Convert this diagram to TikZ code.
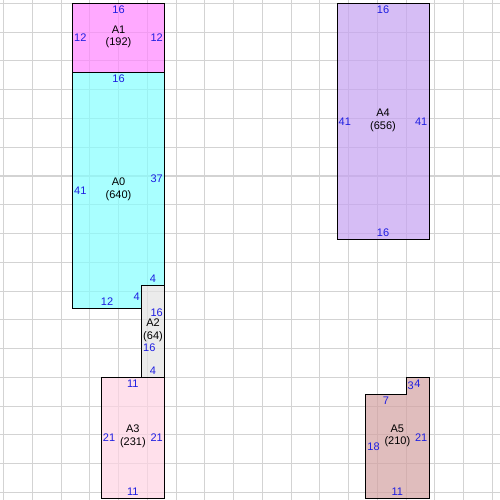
\documentclass[tikz,border=0pt]{standalone}
\usepackage{fontspec}
\setmainfont{Liberation Sans}
\definecolor{gridgray}{RGB}{211,211,211}
\definecolor{lenblue}{RGB}{30,30,225}
\definecolor{fillA0}{RGB}{133,255,255}
\definecolor{fillA1}{RGB}{255,133,255}
\definecolor{fillA2}{RGB}{227,227,227}
\definecolor{fillA3}{RGB}{255,212,227}
\definecolor{fillA4}{RGB}{198,162,241}
\definecolor{fillA5}{RGB}{212,162,162}
\tikzset{
	gridline/.style={draw=gridgray, line width=1pt},
	cell/.style={draw=black, line width=1pt, fill opacity=0.7},
	len/.style={text=lenblue, inner xsep=1.5pt, inner ysep=2.5pt, font=\fontsize{11}{12.5}\selectfont},
	tag/.style={align=center, inner sep=0pt, font=\fontsize{11}{12.5}\selectfont}
}

\begin{document}
\begin{tikzpicture}[x=5.75pt,y=-5.75pt]
	%%%%% START %%%%%
	\useasboundingbox[fill=white] (-0.6087,-0.6087) rectangle (86.348,86.348);
	
	\foreach \k in {0,5,...,85} {
		\draw[gridline] (\k,-0.6087) -- (\k,86.348);
		\draw[gridline] (-0.6087,\k) -- (86.348,\k);
	}
	
	% A1
	\draw[cell, fill=fillA1] (12,0) rectangle (28,12);
	\node[len, anchor=north] (a1t) at (20,0) {16};
	\node[len, anchor=west] (a1l) at (12,6) {12};
	\node[len, anchor=east] (a1r) at (28,6) {12};
	\node[tag] (a1) at (20,5.8) {A1\\(192)};
	
	% A0
	\draw[cell, fill=fillA0] (12,12) -- (28,12) -- (28,49) -- (24,49) -- (24,53) -- (12,53) -- cycle;
	\node[len, anchor=north] (a0t) at (20,12) {16};
	\node[len, anchor=west] (a0l) at (12,32.5) {41};
	\node[len, anchor=east] (a0r) at (28,30.5) {37};
	\node[len, anchor=south] (a0b) at (18,53) {12};
	\node[len, anchor=south] (a0n) at (26,49) {4};
	\node[len, anchor=east] (a0v) at (24,51) {4};
	\node[tag] (a0) at (20,32.3) {A0\\(640)};
	
	% A2
	\draw[cell, fill=fillA2] (24,49) rectangle (28,65);
	\node[len, anchor=east] (a2r) at (28,53.8) {16};
	\node[len, anchor=west] (a2l) at (24,59.9) {16};
	\node[len, anchor=south] (a2b) at (26,65) {4};
	\node[tag] (a2) at (26,56.8) {A2\\(64)};
	
	% A3
	\draw[cell, fill=fillA3] (17,65) rectangle (28,86);
	\node[len, anchor=north] (a3t) at (22.5,65) {11};
	\node[len, anchor=south] (a3b) at (22.5,86) {11};
	\node[len, anchor=west] (a3l) at (17,75.5) {21};
	\node[len, anchor=east] (a3r) at (28,75.5) {21};
	\node[tag] (a3) at (22.5,75.3) {A3\\(231)};
	
	% A4
	\draw[cell, fill=fillA4] (58,0) rectangle (74,41);
	\node[len, anchor=north] (a4t) at (66,0) {16};
	\node[len, anchor=south] (a4b) at (66,41) {16};
	\node[len, anchor=west] (a4l) at (58,20.5) {41};
	\node[len, anchor=east] (a4r) at (74,20.5) {41};
	\node[tag] (a4) at (66,20.35) {A4\\(656)};
	
	% A5
	\draw[cell, fill=fillA5] (63,68) -- (70,68) -- (70,65) -- (74,65) -- (74,86) -- (63,86) -- cycle;
	\node[len, anchor=north] (a5s) at (66.5,68) {7};
	\node[len, anchor=west] (a5v) at (70,66.5) {3};
	\node[len, anchor=north] (a5n) at (72,65) {4};
	\node[len, anchor=west] (a5l) at (63,77) {18};
	\node[len, anchor=east] (a5r) at (74,75.5) {21};
	\node[len, anchor=south] (a5b) at (68.5,86) {11};
	\node[tag] (a5) at (68.5,75.2) {A5\\(210)};
	
	%%%%% END %%%%%
\end{tikzpicture}
\end{document}
